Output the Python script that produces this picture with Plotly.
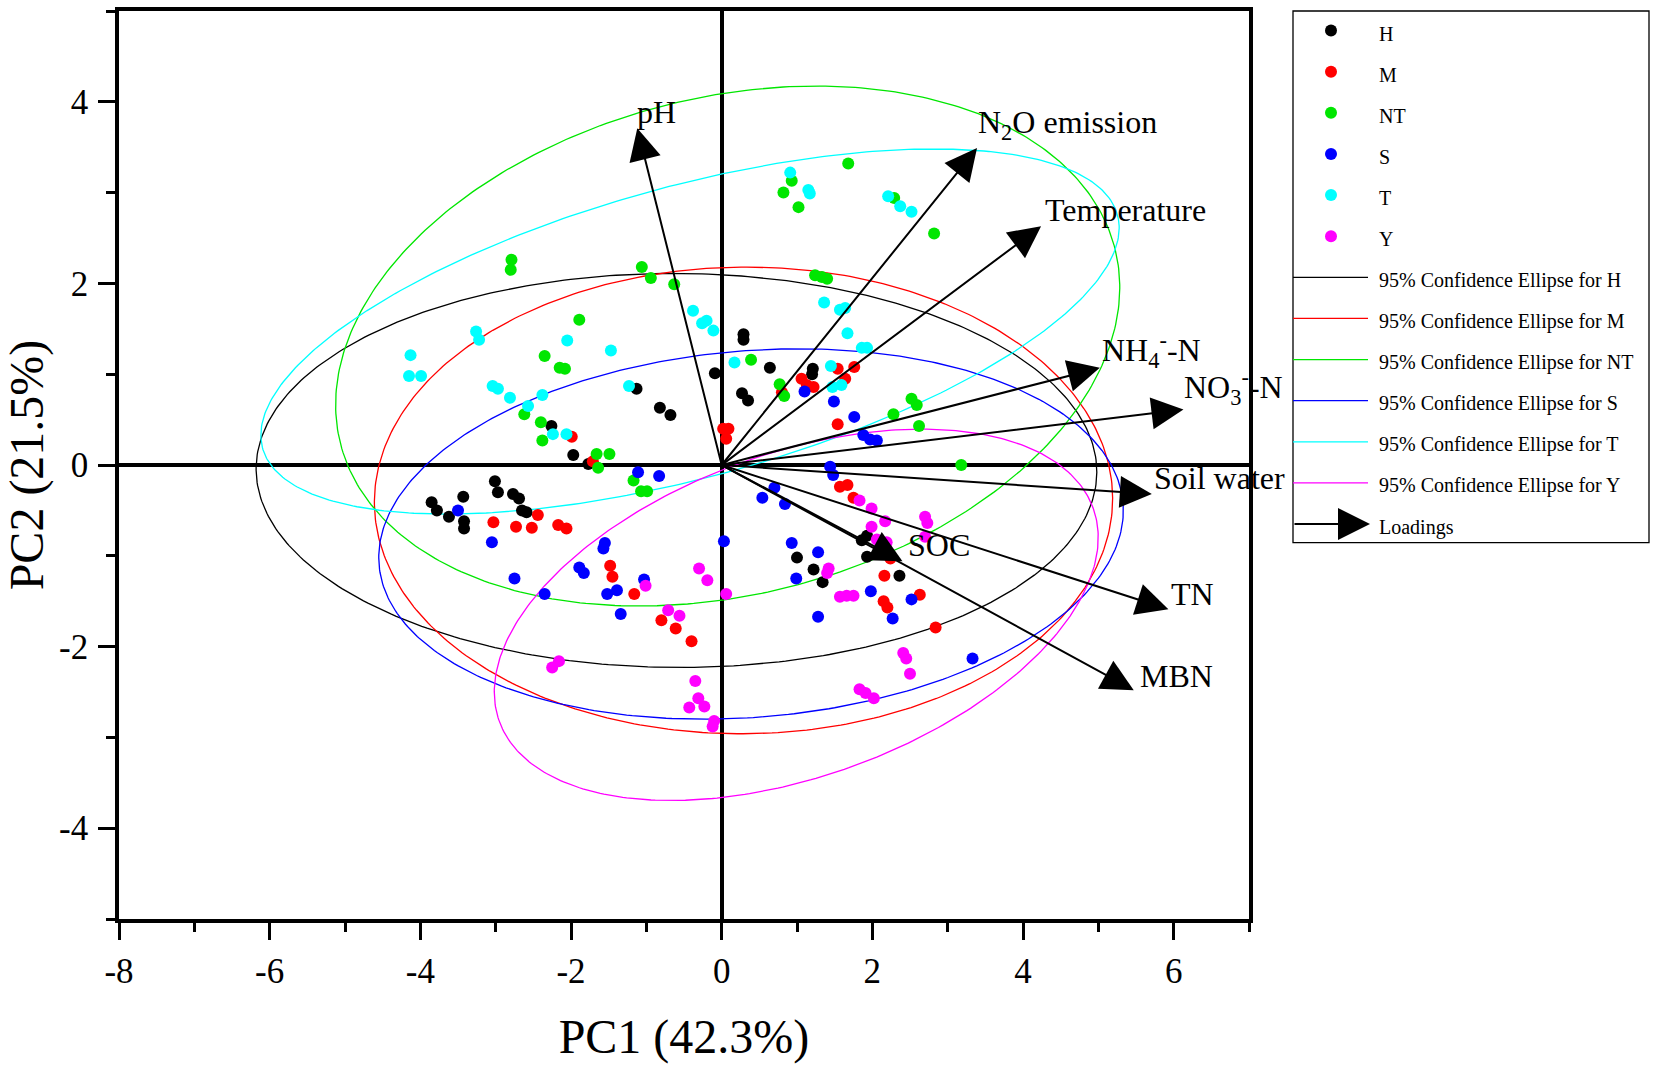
import numpy as np
import plotly.graph_objects as go

FONT = "Liberation Serif, Times New Roman, serif"

groups = ["H", "M", "NT", "S", "T", "Y"]
group_colors = ["#000000", "#FF0000", "#00E600", "#0000FF", "#00FFFF", "#FF00FF"]

# PCA scores (PC1, PC2)
pc1_H = [0.29, 0.29, -0.09, 0.64, 1.21, 1.20, -1.13, -0.82, -0.68, 0.27, 0.35, -2.26, -1.97, -1.77, -3.01,
         -2.97, -2.77, -2.69, -2.65, -2.59, -3.43, -3.85, -3.78, -3.62, -3.42, -3.42, 1.86, 1.93, 1.93, 1.00,
         1.22, 1.34, 2.36]
pc2_H = [1.44, 1.38, 1.01, 1.07, 1.06, 1.00, 0.84, 0.63, 0.55, 0.79, 0.71, 0.43, 0.11, 0.01, -0.18,
         -0.30, -0.32, -0.37, -0.50, -0.52, -0.35, -0.41, -0.50, -0.57, -0.62, -0.70, -0.83, -0.78, -1.01, -1.02,
         -1.15, -1.29, -1.22]

pc1_M = [1.54, 1.76, 1.64, 1.06, 1.13, 1.22, 0.80, 1.54, 0.02, 0.09, 0.06, -1.99, -1.71, -3.03, -2.73,
         -2.52, -2.44, -2.17, -2.06, -1.48, -1.45, -1.16, -0.80, -0.61, -0.40, 1.57, 1.67, 1.75, 2.24, 2.16,
         2.15, 2.20, 2.63, 2.84]
pc2_M = [1.06, 1.08, 0.95, 0.95, 0.88, 0.86, 0.80, 0.45, 0.40, 0.40, 0.29, 0.31, 0.04, -0.63, -0.68,
         -0.69, -0.55, -0.66, -0.70, -1.11, -1.23, -1.42, -1.71, -1.80, -1.94, -0.24, -0.22, -0.36, -1.03, -1.22,
         -1.50, -1.57, -1.43, -1.79]

pc1_NT = [-2.79, -2.80, -1.06, -0.94, -0.63, -1.89, -2.35, -2.15, -2.08, -2.62, -2.40, -2.38, -1.66, -1.49, -1.64,
          -1.17, -1.07, -0.99, 0.39, 0.77, 0.83, 0.93, 0.82, 1.02, 1.68, 2.29, 2.82, 1.24, 1.33, 1.40,
          2.52, 2.59, 2.28, 2.62, 3.18]
pc2_NT = [2.26, 2.15, 2.18, 2.06, 1.99, 1.60, 1.20, 1.07, 1.06, 0.56, 0.47, 0.27, 0.12, 0.12, -0.03,
          -0.17, -0.29, -0.29, 1.16, 0.89, 0.76, 3.13, 3.00, 2.84, 3.32, 2.94, 2.55, 2.09, 2.07, 2.05,
          0.73, 0.66, 0.56, 0.43, 0.00]

pc1_S = [1.10, 1.49, 1.76, 1.88, 1.97, 2.06, -1.11, -0.83, -3.50, -3.05, -2.75, -2.35, -1.55, -1.57, -1.89,
         -1.83, -1.03, -1.52, -1.39, -1.34, 1.44, 1.48, 0.70, 0.54, 0.84, 0.03, 0.93, 1.28, 0.99, 1.98,
         2.27, 2.52, 1.28, 3.33]
pc2_S = [0.81, 0.70, 0.53, 0.33, 0.28, 0.27, -0.08, -0.12, -0.50, -0.85, -1.25, -1.42, -0.86, -0.92, -1.13,
         -1.19, -1.26, -1.42, -1.38, -1.64, -0.02, -0.11, -0.25, -0.36, -0.43, -0.84, -0.86, -0.96, -1.25, -1.39,
         -1.69, -1.48, -1.67, -2.13]

pc1_T = [-4.13, -4.15, -3.99, -3.26, -3.22, -2.05, -1.47, -3.04, -2.97, -2.81, -2.57, -2.38, -2.24, -2.06, -1.23,
         -0.38, -0.26, -0.20, -0.11, 0.17, 0.91, 1.15, 1.17, 2.21, 2.37, 2.52, 1.36, 1.57, 1.64, 1.67,
         1.86, 1.93, 1.45, 1.47, 1.59]
pc2_T = [1.21, 0.98, 0.98, 1.47, 1.38, 1.37, 1.26, 0.87, 0.84, 0.74, 0.65, 0.77, 0.34, 0.34, 0.87,
         1.70, 1.56, 1.59, 1.48, 1.13, 3.22, 3.03, 2.99, 2.96, 2.85, 2.79, 1.79, 1.71, 1.73, 1.45,
         1.29, 1.29, 1.09, 0.86, 0.88]

pc1_Y = [1.83, 1.99, 2.17, 1.99, 2.70, 2.73, 2.70, 2.06, 2.19, 1.42, 1.40, 1.57, 1.66, 1.75, -0.30,
         -0.19, 0.06, -1.01, -0.71, -0.56, -2.16, -2.25, -0.35, -0.31, -0.43, -0.23, -0.10, -0.12, 2.41, 2.45,
         2.50, 1.83, 1.91, 2.02]
pc2_Y = [-0.39, -0.48, -0.62, -0.68, -0.57, -0.64, -0.79, -0.82, -0.85, -1.14, -1.19, -1.45, -1.44, -1.44, -1.14,
         -1.27, -1.42, -1.33, -1.60, -1.66, -2.16, -2.23, -2.38, -2.57, -2.67, -2.66, -2.82, -2.88, -2.07, -2.13,
         -2.30, -2.47, -2.51, -2.57]

# 95% confidence ellipses: centre, semi-axes, rotation (deg), per group
ell_cx = [-0.60, 0.29, 0.08, 0.39, -0.42, 0.99]
ell_cy = [-0.06, -0.39, 1.31, -0.76, 1.47, -1.65]
ell_a = [5.58, 4.90, 5.26, 4.95, 5.82, 4.12]
ell_b = [2.17, 2.57, 2.76, 2.02, 1.62, 1.81]
ell_deg = [-0.2, 0.3, 9.8, 3.6, 12.3, 14.9]

# loading vectors (arrow tips)
load_names = ["pH", "N<sub>2</sub>O emission", "Temperature", "NH<sub>4</sub><sup>-</sup>-N",
              "NO<sub>3</sub><sup>-</sup>-N", "Soil water", "TN", "MBN", "SOC"]
load_pc1 = [-1.12, 3.39, 4.24, 5.02, 6.13, 5.71, 5.93, 5.47, 2.40]
load_pc2 = [3.71, 3.49, 2.63, 1.07, 0.61, -0.32, -1.59, -2.48, -1.06]

x_ticks = [-8, -6, -4, -2, 0, 2, 4, 6]
y_ticks = [-4, -2, 0, 2, 4]

scores = {"H": (pc1_H, pc2_H), "M": (pc1_M, pc2_M), "NT": (pc1_NT, pc2_NT),
          "S": (pc1_S, pc2_S), "T": (pc1_T, pc2_T), "Y": (pc1_Y, pc2_Y)}

fig = go.Figure()

t = np.linspace(0, 2 * np.pi, 400)
for i, c in enumerate(group_colors):
    th = np.radians(ell_deg[i])
    ex = ell_cx[i] + ell_a[i] * np.cos(t) * np.cos(th) - ell_b[i] * np.sin(t) * np.sin(th)
    ey = ell_cy[i] + ell_a[i] * np.cos(t) * np.sin(th) + ell_b[i] * np.sin(t) * np.cos(th)
    fig.add_trace(go.Scatter(x=ex, y=ey, mode="lines", line=dict(color=c, width=1.3),
                             hoverinfo="skip", showlegend=False))

for g, c in zip(groups, group_colors):
    xs, ys = scores[g]
    fig.add_trace(go.Scatter(x=xs, y=ys, mode="markers", name=g,
                             marker=dict(color=c, size=12, line=dict(width=0)), showlegend=False))

# loading arrows and their labels
label_pos = [(-1.15, 3.89), (3.38, 3.75), (4.27, 2.81), (5.02, 1.26), (6.11, 0.85),
             (5.71, -0.14), (5.94, -1.42), (5.52, -2.32), (2.45, -0.88)]
for name, lx, ly, (tx, ty) in zip(load_names, load_pc1, load_pc2, label_pos):
    fig.add_annotation(x=lx, y=ly, ax=0, ay=0, xref="x", yref="y", axref="x", ayref="y",
                       text="", showarrow=True, arrowhead=2, arrowsize=3.2, arrowwidth=2,
                       arrowcolor="black", standoff=0)
    fig.add_annotation(x=tx, y=ty, xref="x", yref="y", text=name, showarrow=False,
                       xanchor="left", yanchor="middle", font=dict(family=FONT, size=32, color="black"))

# hand-built legend box on the right (pixel geometry of the 1654x1070 canvas)
L, R, T, B = 119, 1249, 7, 919


def px_x(px):
    return (px - L) / (R - L)


def px_y(py):
    return (B - py) / (B - T)


fig.add_shape(type="rect", xref="paper", yref="paper", x0=px_x(1293), x1=px_x(1649),
              y0=px_y(541), y1=px_y(7), line=dict(color="black", width=1.3), fillcolor="white")

legend_text = groups + [f"95% Confidence Ellipse for {g}" for g in groups] + ["Loadings"]
row_y = [26.7 + 41.3 * i for i in range(len(legend_text))]
for i, (label, ry) in enumerate(zip(legend_text, row_y)):
    if i < 6:
        fig.add_shape(type="circle", xref="paper", yref="paper", xsizemode="pixel", ysizemode="pixel",
                      xanchor=px_x(1331), yanchor=px_y(ry), x0=-6, x1=6, y0=-6, y1=6,
                      fillcolor=group_colors[i], line=dict(width=0))
    elif i < 12:
        fig.add_shape(type="line", xref="paper", yref="paper", x0=px_x(1293), x1=px_x(1368),
                      y0=px_y(ry), y1=px_y(ry), line=dict(color=group_colors[i - 6], width=1.3))
    else:
        fig.add_annotation(x=px_x(1370), y=px_y(ry), xref="paper", yref="paper", ax=-77, ay=0,
                           text="", showarrow=True, arrowhead=2, arrowsize=3.2, arrowwidth=2,
                           arrowcolor="black", standoff=0)
    fig.add_annotation(x=px_x(1377), y=px_y(ry + 3), xref="paper", yref="paper", text=label,
                       showarrow=False, xanchor="left", yanchor="middle",
                       font=dict(family=FONT, size=20, color="black"))

axis_common = dict(
    showline=True, linewidth=3.5, linecolor="black", mirror=True,
    showgrid=False, zeroline=True, zerolinewidth=3.5, zerolinecolor="black",
    ticks="outside", ticklen=17, tickwidth=3, tickcolor="black",
    minor=dict(dtick=1, ticks="outside", ticklen=9, tickwidth=3, tickcolor="black", showgrid=False),
    tickfont=dict(family=FONT, size=35, color="black"),
)

fig.update_xaxes(range=[-8, 7], tickvals=x_ticks, ticktext=[str(v) for v in x_ticks],
                 ticklabelstandoff=1,
                 title=dict(text="PC1 (42.3%)", font=dict(family=FONT, size=48, color="black"), standoff=31),
                 **axis_common)
fig.update_yaxes(range=[-5, 5], tickvals=y_ticks, ticktext=[str(v) for v in y_ticks],
                 ticklabelstandoff=3,
                 title=dict(text="PC2 (21.5%)", font=dict(family=FONT, size=48, color="black"), standoff=4),
                 **axis_common)

fig.update_layout(
    width=1654, height=1070, autosize=False,
    margin=dict(l=L, r=1654 - R, t=T, b=1070 - B),
    plot_bgcolor="white", paper_bgcolor="white",
    showlegend=False,
    font=dict(family=FONT, color="black"),
)

fig.write_html("out.html", config={"displayModeBar": False},
               post_script="document.body.style.margin='0';")
